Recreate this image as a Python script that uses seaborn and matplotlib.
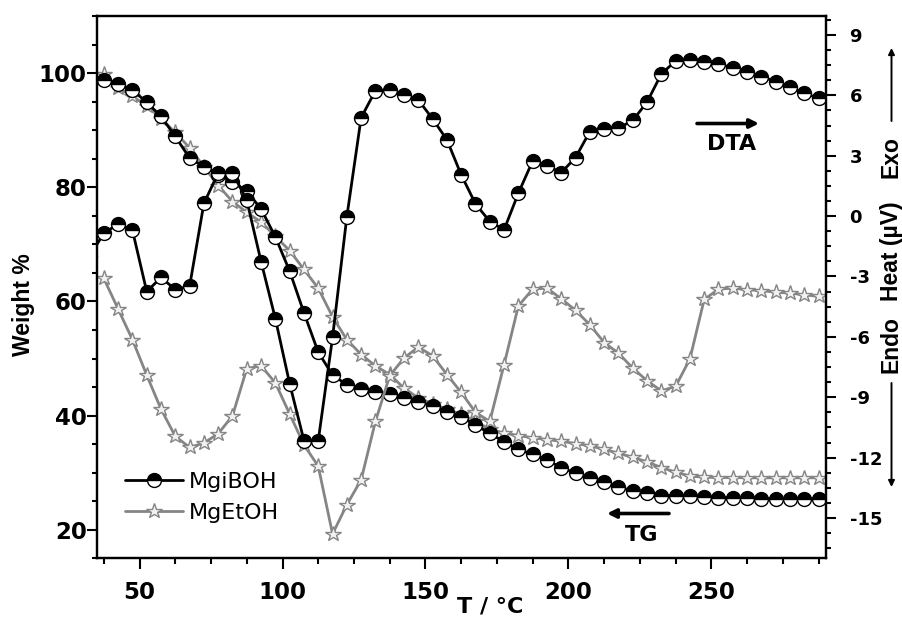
import numpy as np
import pandas as pd
import seaborn as sns
import matplotlib
matplotlib.use("Agg")
import matplotlib.pyplot as plt
from matplotlib.lines import Line2D

# ---------------- data ----------------
temperature = [37.5 + 5 * i for i in range(51)]

mgiboh_tg = [98.8, 98.1, 97.0, 94.9, 92.4, 88.9, 85.1, 83.6, 82.2, 81.0,
             79.3, 76.2, 71.3, 65.3, 58.0, 51.1, 47.1, 45.4, 44.7, 44.1,
             43.7, 43.1, 42.4, 41.7, 40.7, 39.8, 38.3, 36.9, 35.4, 34.1,
             33.2, 32.2, 30.9, 29.9, 29.1, 28.3, 27.5, 26.8, 26.4, 26.0,
             26.0, 25.85, 25.75, 25.65, 25.6, 25.5, 25.45, 25.4, 25.4, 25.4,
             25.4]

mgiboh_dta_t = [32.5] + temperature
mgiboh_dta = [-2.0,
              -0.85, -0.40, -0.70, -3.75, -3.05, -3.65, -3.48, 0.63, 2.14, 2.16,
              0.78, -2.26, -5.10, -8.33, -11.15, -11.15, -6.03, -0.03, 4.89, 6.23,
              6.27, 6.02, 5.77, 4.83, 3.79, 2.05, 0.61, -0.27, -0.68, 1.14,
              2.74, 2.51, 2.16, 2.91, 4.20, 4.32, 4.37, 4.75, 5.66, 7.06,
              7.71, 7.76, 7.67, 7.54, 7.38, 7.18, 6.93, 6.68, 6.40, 6.10,
              5.86]

mgetoh_tg = [99.9, 97.4, 95.9, 94.3, 92.0, 89.6, 86.9, 83.6, 80.3, 77.5,
             75.6, 73.9, 71.4, 68.9, 65.6, 62.3, 57.3, 53.3, 50.7, 48.7,
             47.2, 44.8, 43.1, 42.1, 41.1, 40.2, 39.0, 37.6, 36.95, 36.5,
             36.1, 35.8, 35.5, 35.1, 34.7, 34.1, 33.4, 32.7, 31.9, 30.9,
             30.1, 29.4, 29.2, 29.15, 29.15, 29.1, 29.1, 29.1, 29.1, 29.1,
             29.1]

mgetoh_dta = [-3.1, -4.62, -6.14, -7.90, -9.59, -10.94, -11.49, -11.27, -10.81, -9.92,
              -7.58, -7.43, -8.29, -9.83, -11.36, -12.43, -15.79, -14.34, -13.10, -10.20,
              -7.93, -7.05, -6.51, -6.94, -7.87, -8.76, -9.75, -10.20, -7.38, -4.46,
              -3.63, -3.58, -4.11, -4.68, -5.40, -6.28, -6.81, -7.55, -8.18, -8.68,
              -8.46, -7.10, -4.14, -3.63, -3.58, -3.66, -3.70, -3.78, -3.83, -3.91,
              -3.99]

series_names = ["MgiBOH", "MgEtOH"]
weight_ticks = [20, 40, 60, 80, 100]
heat_ticks = [-15, -12, -9, -6, -3, 0, 3, 6, 9]
temp_ticks = [50, 100, 150, 200, 250]

# ---------------- style ----------------
sns.set_style("ticks")
plt.rcParams["font.family"] = ["DejaVu Sans"]
for k in ("text.color", "axes.labelcolor", "xtick.color", "ytick.color", "axes.edgecolor"):
    plt.rcParams[k] = "black"

W, H = 903, 619
fig = plt.figure(figsize=(W / 100, H / 100), dpi=100)
ax = fig.add_axes([96.7 / W, 1 - 558.3 / H, (825.7 - 96.7) / W, (558.3 - 16) / H])
ax2 = ax.twinx()

GRAY = "#858585"
black_kw = dict(color="black", marker="o", markersize=10, fillstyle="top",
                markerfacecolor="black", markerfacecoloralt="white",
                markeredgecolor="black", markeredgewidth=1.0, linewidth=2.0)
gray_kw = dict(color=GRAY, marker="*", markersize=11.5, markerfacecolor="#f2f2f2",
               markeredgecolor=GRAY, markeredgewidth=1.0, linewidth=2.0)

df_tg = pd.DataFrame({"T": temperature, "MgiBOH": mgiboh_tg, "MgEtOH": mgetoh_tg})
df_dta_e = pd.DataFrame({"T": temperature, "MgEtOH": mgetoh_dta})
df_dta_i = pd.DataFrame({"T": mgiboh_dta_t, "MgiBOH": mgiboh_dta})

sns.lineplot(data=df_tg, x="T", y="MgEtOH", ax=ax, sort=False, estimator=None,
             legend=False, **gray_kw)
sns.lineplot(data=df_tg, x="T", y="MgiBOH", ax=ax, sort=False, estimator=None,
             legend=False, **black_kw)
sns.lineplot(data=df_dta_e, x="T", y="MgEtOH", ax=ax2, sort=False, estimator=None,
             legend=False, **gray_kw)
sns.lineplot(data=df_dta_i, x="T", y="MgiBOH", ax=ax2, sort=False, estimator=None,
             legend=False, **black_kw)

ax.set_xlim(35, 290)
ax.set_ylim(15, 110)
ax2.set_ylim(-17, 9.94)

ax.set_xticks(temp_ticks)
ax.set_xticks(np.arange(37.5, 290, 12.5), minor=True)
ax.set_yticks(weight_ticks)
ax.set_yticks(np.arange(15, 110.1, 5), minor=True)
ax2.set_yticks(heat_ticks)
ax2.set_yticks(np.arange(-16.5, 9.9, 0.75), minor=True)

ax.set_xlabel("")
ax.set_ylabel("")
ax2.set_ylabel("")

for a in (ax, ax2):
    for s in a.spines.values():
        s.set_linewidth(1.6)
        s.set_color("black")
        s.set_visible(True)

ax.tick_params(axis="x", which="major", direction="out", length=8, width=1.5,
               labelsize=16.5, pad=8, top=False)
ax.tick_params(axis="x", which="minor", direction="out", length=4, width=1.5, top=False)
ax.tick_params(axis="y", which="major", direction="out", length=7.2, width=1.5,
               labelsize=16.5, pad=0, right=False)
ax.tick_params(axis="y", which="minor", direction="out", length=3.6, width=1.5, right=False)
ax2.tick_params(axis="y", which="major", direction="out", length=7.2, width=1.5,
                labelsize=13, pad=10)
ax2.tick_params(axis="y", which="minor", direction="out", length=3.6, width=1.5)

for lbl in ax.get_xticklabels() + ax.get_yticklabels():
    lbl.set_fontweight("bold")
ax2.set_yticklabels([str(t) for t in heat_ticks], fontweight="bold")


def fpx(x, y):
    return (x / W, 1 - y / H)


VFONT = ["Liberation Sans", "DejaVu Sans"]

# axis labels
fig.text(*fpx(24, 305), "Weight %", rotation=90, ha="center", va="center",
         fontsize=16.5, fontweight="bold", family=VFONT)
fig.text(*fpx(490, 613), "T / °C", ha="center", va="baseline",
         fontsize=16, fontweight="bold")
fig.text(*fpx(891.5, 157), "Exo", rotation=90, ha="center", va="center",
         fontsize=16.5, fontweight="bold", family=VFONT)
fig.text(*fpx(891.5, 251), "Heat (µV)", rotation=90, ha="center", va="center",
         fontsize=16.5, fontweight="bold", family=VFONT)
fig.text(*fpx(891.5, 345), "Endo", rotation=90, ha="center", va="center",
         fontsize=16.5, fontweight="bold", family=VFONT)

arrow_thin = dict(arrowstyle="-|>", color="black", lw=1.4, mutation_scale=9,
                  shrinkA=0, shrinkB=0)
fig.add_artist(plt.Annotation("", xy=fpx(891.5, 48), xytext=fpx(891.5, 121),
                              xycoords="figure fraction", textcoords="figure fraction",
                              arrowprops=arrow_thin))
fig.add_artist(plt.Annotation("", xy=fpx(891.5, 487), xytext=fpx(891.5, 383),
                              xycoords="figure fraction", textcoords="figure fraction",
                              arrowprops=arrow_thin))

# DTA / TG annotations
arrow_bold = dict(arrowstyle="-|>", color="black", lw=2.6, mutation_scale=13,
                  shrinkA=0, shrinkB=0)
fig.add_artist(plt.Annotation("", xy=fpx(759, 123.5), xytext=fpx(697, 123.5),
                              xycoords="figure fraction", textcoords="figure fraction",
                              arrowprops=arrow_bold))
fig.text(*fpx(731.5, 143.5), "DTA", ha="center", va="center", fontsize=16,
         fontweight="bold")
fig.add_artist(plt.Annotation("", xy=fpx(607, 513.5), xytext=fpx(669, 513.5),
                              xycoords="figure fraction", textcoords="figure fraction",
                              arrowprops=arrow_bold))
fig.text(*fpx(641.5, 535), "TG", ha="center", va="center", fontsize=16,
         fontweight="bold")

# legend
handles = [
    Line2D([], [], **black_kw),
    Line2D([], [], **gray_kw),
]
leg = ax.legend(handles, series_names, loc="upper left",
                bbox_to_anchor=fpx(116, 463), bbox_transform=fig.transFigure,
                frameon=False, fontsize=16, handlelength=2.6, handletextpad=0.3,
                labelspacing=0.5, borderpad=0.4, borderaxespad=0)

fig.savefig("out.png", dpi=100)
